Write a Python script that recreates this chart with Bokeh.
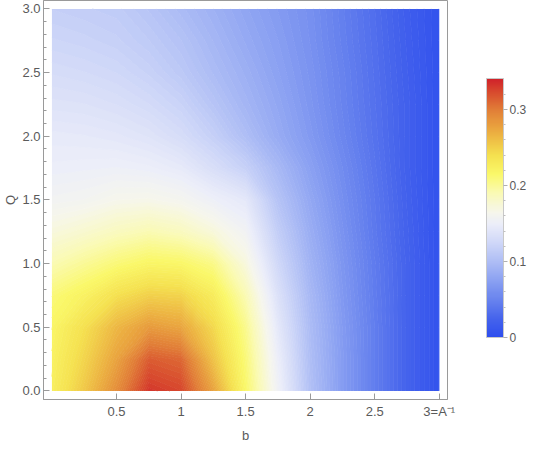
import numpy as np
from bokeh.plotting import figure
from bokeh.models import LinearColorMapper, ColorBar, FixedTicker, Range1d
from bokeh.embed import file_html
from bokeh.resources import INLINE

# ---------------- data ----------------
b_values = [0.0, 0.25, 0.5, 0.75, 1.0, 1.25, 1.5, 1.75, 2.0, 2.25, 2.5, 2.75, 3.0]
q_values = [0.0, 0.25, 0.5, 0.75, 1.0, 1.25, 1.5, 1.75, 2.0, 2.25, 2.5, 2.75, 3.0]

# one row per Q value, columns follow b_values
row_q_0_00 = [0.225, 0.255, 0.290, 0.332, 0.325, 0.277, 0.215, 0.155, 0.102, 0.070, 0.045, 0.023, 0.005]
row_q_0_25 = [0.222, 0.247, 0.277, 0.315, 0.310, 0.258, 0.210, 0.150, 0.100, 0.070, 0.045, 0.023, 0.005]
row_q_0_50 = [0.218, 0.240, 0.265, 0.282, 0.276, 0.245, 0.203, 0.143, 0.098, 0.069, 0.045, 0.023, 0.005]
row_q_0_75 = [0.210, 0.222, 0.240, 0.250, 0.248, 0.228, 0.190, 0.135, 0.095, 0.067, 0.044, 0.023, 0.005]
row_q_1_00 = [0.190, 0.200, 0.210, 0.218, 0.216, 0.205, 0.172, 0.125, 0.090, 0.065, 0.043, 0.023, 0.005]
row_q_1_25 = [0.172, 0.178, 0.185, 0.190, 0.185, 0.173, 0.157, 0.115, 0.085, 0.062, 0.041, 0.022, 0.005]
row_q_1_50 = [0.158, 0.160, 0.165, 0.166, 0.162, 0.152, 0.143, 0.105, 0.080, 0.059, 0.040, 0.021, 0.005]
row_q_1_75 = [0.150, 0.151, 0.152, 0.150, 0.145, 0.132, 0.118, 0.095, 0.074, 0.056, 0.038, 0.020, 0.005]
row_q_2_00 = [0.145, 0.144, 0.142, 0.138, 0.130, 0.117, 0.100, 0.083, 0.068, 0.052, 0.036, 0.020, 0.005]
row_q_2_25 = [0.137, 0.136, 0.133, 0.128, 0.120, 0.106, 0.092, 0.079, 0.065, 0.050, 0.035, 0.020, 0.005]
row_q_2_50 = [0.130, 0.128, 0.125, 0.119, 0.110, 0.098, 0.087, 0.075, 0.063, 0.049, 0.034, 0.019, 0.005]
row_q_2_75 = [0.123, 0.121, 0.118, 0.112, 0.104, 0.093, 0.082, 0.072, 0.061, 0.047, 0.033, 0.018, 0.005]
row_q_3_00 = [0.117, 0.115, 0.113, 0.106, 0.097, 0.088, 0.078, 0.069, 0.060, 0.046, 0.032, 0.017, 0.005]

value_min = 0.0
value_max = 0.3408

x_ticks = [0.5, 1.0, 1.5, 2.0, 2.5, 3.0]
x_tick_labels = ["0.5", "1", "1.5", "2", "2.5", "3=A\u207b\u00b9"]
y_ticks = [0.0, 0.5, 1.0, 1.5, 2.0, 2.5, 3.0]
y_tick_labels = ["0.0", "0.5", "1.0", "1.5", "2.0", "2.5", "3.0"]
y_minor_ticks = [0.1, 0.2, 0.3, 0.4, 0.6, 0.7, 0.8, 0.9, 1.1, 1.2, 1.3, 1.4,
                 1.6, 1.7, 1.8, 1.9, 2.1, 2.2, 2.3, 2.4, 2.6, 2.7, 2.8, 2.9]
cb_ticks = [0.0, 0.1, 0.2, 0.3]
cb_tick_labels = ["0", "0.1", "0.2", "0.3"]
cb_minor_ticks = [0.02, 0.04, 0.06, 0.08, 0.12, 0.14, 0.16, 0.18,
                  0.22, 0.24, 0.26, 0.28, 0.32]

# ---------------- style ----------------
FONT = "Liberation Sans"
TXT = "#5a5a5a"
AX = "#9a9a9a"

# colour scheme (TemperatureMap-like stops, position in 0..1)
stops = [
    (0.000, (46, 78, 238)),
    (0.073, (70, 100, 236)),
    (0.147, (105, 132, 238)),
    (0.220, (140, 162, 242)),
    (0.293, (175, 190, 245)),
    (0.367, (208, 216, 248)),
    (0.440, (236, 238, 249)),
    (0.484, (246, 246, 236)),
    (0.557, (250, 250, 180)),
    (0.631, (250, 248, 105)),
    (0.704, (245, 225, 80)),
    (0.792, (236, 175, 65)),
    (0.880, (225, 125, 55)),
    (0.954, (215, 70, 45)),
    (1.000, (208, 34, 42)),
]
stop_pos = np.array([s[0] for s in stops])
stop_rgb = np.array([s[1] for s in stops], dtype=float)


def scheme(t):
    return "#%02x%02x%02x" % tuple(int(round(np.interp(t, stop_pos, stop_rgb[:, k]))) for k in range(3))


palette = [scheme(t) for t in np.linspace(0, 1, 256)]
mapper = LinearColorMapper(palette=palette, low=value_min, high=value_max)

z = np.array([row_q_0_00, row_q_0_25, row_q_0_50, row_q_0_75, row_q_1_00, row_q_1_25,
              row_q_1_50, row_q_1_75, row_q_2_00, row_q_2_25, row_q_2_50, row_q_2_75,
              row_q_3_00])

# shading levels (drawing style only)
n_bands = 128
levels = [value_min + (value_max - value_min) * i / n_bands for i in range(n_bands + 1)]
band_colors = [scheme((i + 0.5) / n_bands) for i in range(n_bands)]
level_colors = [scheme(i / n_bands) for i in range(n_bands + 1)]

p = figure(width=529, height=445,
           x_range=Range1d(-0.0652, 3.0637), y_range=Range1d(-0.0677, 3.0661),
           output_backend="svg", toolbar_location=None,
           min_border_left=39, min_border_right=82, min_border_top=0, min_border_bottom=42)
p.title.visible = False
p.background_fill_color = "white"
p.border_fill_color = "white"
p.outline_line_color = AX
p.outline_line_width = 1
p.grid.visible = False

p.contour(x=b_values, y=q_values, z=z, levels=levels,
          fill_color=band_colors, line_color=level_colors, line_width=1.0)

xa = p.xaxis[0]
xa.ticker = FixedTicker(ticks=x_ticks, minor_ticks=[])
xa.major_label_overrides = {t: l for t, l in zip(x_ticks, x_tick_labels)}
ya = p.yaxis[0]
ya.ticker = FixedTicker(ticks=y_ticks, minor_ticks=y_minor_ticks)
ya.major_label_overrides = {t: l for t, l in zip(y_ticks, y_tick_labels)}

for ax in (xa, ya):
    ax.axis_line_color = AX
    ax.major_tick_line_color = AX
    ax.minor_tick_line_color = AX
    ax.major_tick_in = 6
    ax.major_tick_out = 0
    ax.minor_tick_in = 3
    ax.minor_tick_out = 0
    ax.major_label_text_font = FONT
    ax.major_label_text_font_size = "13px"
    ax.major_label_text_color = TXT
    ax.axis_label_text_font = FONT
    ax.axis_label_text_font_size = "13px"
    ax.axis_label_text_font_style = "normal"
    ax.axis_label_text_color = TXT

xa.axis_label = "b"
xa.major_label_standoff = 4
xa.axis_label_standoff = 6
ya.axis_label = "Q"
ya.major_label_standoff = 3
ya.axis_label_standoff = 1

cb = ColorBar(color_mapper=mapper, width=17, height=259, location=(443, 62), padding=0,
              ticker=FixedTicker(ticks=cb_ticks, minor_ticks=cb_minor_ticks),
              major_label_overrides={t: l for t, l in zip(cb_ticks, cb_tick_labels)},
              major_tick_in=0, major_tick_out=4, minor_tick_in=0, minor_tick_out=2,
              major_tick_line_color="#b0b0b0", minor_tick_line_color="#c0c0c0",
              bar_line_color="#c8c8c8", label_standoff=2,
              major_label_text_font=FONT, major_label_text_font_size="12px",
              major_label_text_color=TXT,
              background_fill_alpha=0, border_line_alpha=0)
p.add_layout(cb)

open("out.html", "w").write(file_html(p, INLINE))
